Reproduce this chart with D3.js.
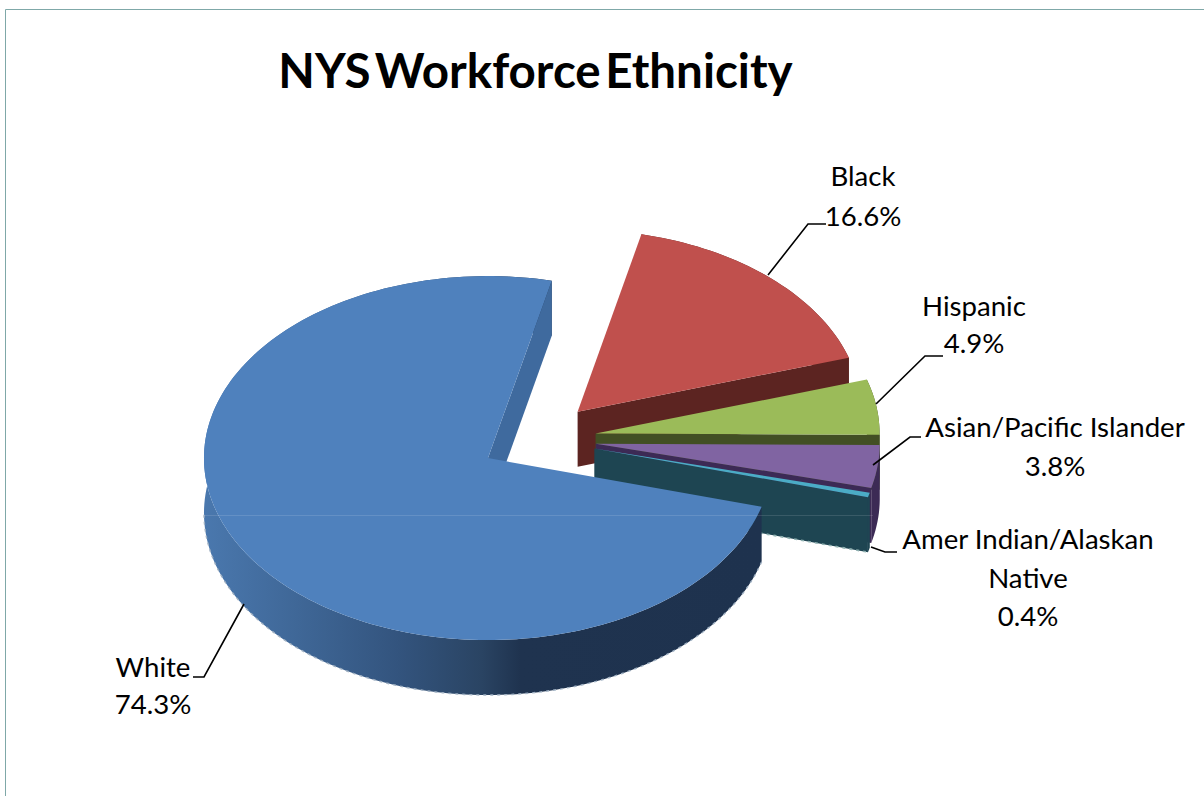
<!DOCTYPE html>
<html><head><meta charset="utf-8">
<script src="https://cdn.jsdelivr.net/npm/d3@7/dist/d3.min.js"></script>
<style>html,body{margin:0;padding:0;background:#fff;overflow:hidden}svg{display:block}text{font-family:Lato,"Open Sans",sans-serif;fill:#000}</style>
</head><body><svg id="c" width="1204" height="796"></svg>
<script>
const categories = ["White","Black","Hispanic","Asian/Pacific Islander","Amer Indian/Alaskan Native"];
const values = [74.3,16.6,4.9,3.8,0.4];
const labelLines = [["White"],["Black"],["Hispanic"],["Asian/Pacific Islander"],["Amer Indian/Alaskan","Native"]];
const topColors = ["#4f81bd","#c0504d","#9bbb59","#8064a2","#4bacc6"];
const faceColors = ["#3f6a9e","#5c2421","#424f24","#3c2a55","#1e4552"];
const wallColors = ["url(#rim)","#5c2421","#424f24","#3c2a55","#1e4552"];
const titleText = "NYS Workforce Ethnicity";

const W=1204,H=796,cx=538,cy=439,rx=284,ry=182,depth=55,explode=0.205;
const rad=d=>d*Math.PI/180;
const svg=d3.select("#c");
const xS=d3.scaleLinear().domain([-1,1]).range([-rx,rx]);
const yS=d3.scaleLinear().domain([-1,1]).range([ry,-ry]);
const pie=d3.pie().sort(null).startAngle(rad(105.5)).endAngle(rad(465.5));
const arcs=pie(values);

const defs=svg.append("defs");
const g=defs.append("linearGradient").attr("id","rim").attr("gradientUnits","userSpaceOnUse")
  .attr("x1",203).attr("x2",760).attr("y1",0).attr("y2",0);
[[0,"#4a78ae"],[.17,"#3f6797"],[.35,"#33547e"],[.5,"#2a4463"],[.57,"#1f334f"],[1,"#1e324e"]]
  .forEach(s=>g.append("stop").attr("offset",s[0]).attr("stop-color",s[1]));

svg.append("path").attr("d",d3.line()([[5.5,H],[5.5,9.5],[W,9.5]])).attr("fill","none").attr("stroke","#7fa8a8").attr("stroke-width",1);

const line=d3.line();
function geom(d){
  const mid=(d.startAngle+d.endAngle)/2;
  const ox=cx+xS(explode*Math.sin(mid)), oy=cy+yS(explode*Math.cos(mid));
  const pt=(a,dz=0)=>[ox+xS(Math.sin(a)),oy+yS(Math.cos(a))+dz];
  const n=Math.max(4,Math.ceil((d.endAngle-d.startAngle)/rad(1.5)));
  const as=d3.range(n+1).map(i=>d.startAngle+(d.endAngle-d.startAngle)*i/n);
  return {ox,oy,pt,as};
}
// painter's order: back slices first, white (front) last
[1,2,3,4,0].forEach(i=>{
  const d=arcs[i],{ox,oy,pt,as}=geom(d);
  const e=d.endAngle, p=pt(e), pd=pt(e,depth);
  // outer wall
  svg.append("path").attr("d",line(as.map(a=>pt(a)).concat(as.slice().reverse().map(a=>pt(a,depth))))+"Z")
    .attr("fill",wallColors[i]);
  // bottom-edge dither on the white slice
  if(i===0){
    const bottom = as.filter(a=>Math.cos(a)<0.02);
    svg.append("path").attr("d",line(bottom.map(a=>pt(a,depth))))
      .attr("fill","none").attr("stroke","#9fb0c2").attr("stroke-width",1.4).attr("stroke-dasharray","3 4");
  }
  // cut face
  svg.append("path").attr("d",line([[ox,oy],p,pd,[ox,oy+depth]])+"Z").attr("fill",faceColors[i]);
  if(i===4){
    svg.append("path").attr("d",line([[ox,oy+depth],pd]))
      .attr("fill","none").attr("stroke","#8fb0b0").attr("stroke-width",1.6).attr("stroke-dasharray","3 4");
  }
  // top surface
  svg.append("path").attr("d",line([[ox,oy]].concat(as.map(a=>pt(a))))+"Z").attr("fill",topColors[i]);
});
// faint horizontal seam present in the picture
svg.append("path").attr("d",line([[203,515.5],[873,515.5]])).attr("stroke","#fff").attr("stroke-opacity",.12).attr("fill","none");

// title
svg.append("text").attr("x",535.5).attr("y",88).attr("text-anchor","middle")
  .attr("font-size",47.5).attr("font-weight",700).attr("word-spacing",-7).style("font-family","Lato").text(titleText);

// data labels
const labelPos=[[153,677],[863,186],[974,316],[1055,437],[1028,549]];
const lineStep=[37,40,37,39,38.5];
const leaders=[[[244,604],[204,677],[193,677]],[[768,275],[808,224],[826,224]],[[876,404],[925,356],[943,356]],[[873,465],[910,437],[921,437]],[[871,547],[885,552],[897,552]]];
const fmt=d3.format(".1f");
arcs.forEach((d,i)=>{
  svg.append("path").attr("d",line(leaders[i])).attr("fill","none").attr("stroke","#000").attr("stroke-width",1.6);
  const ls=labelLines[i].concat([fmt(values[i])+"%"]);
  ls.forEach((t,j)=>svg.append("text").attr("x",labelPos[i][0]).attr("y",labelPos[i][1]+j*lineStep[i])
    .attr("text-anchor","middle").attr("font-size",27.6).text(t));
});
</script></body></html>
